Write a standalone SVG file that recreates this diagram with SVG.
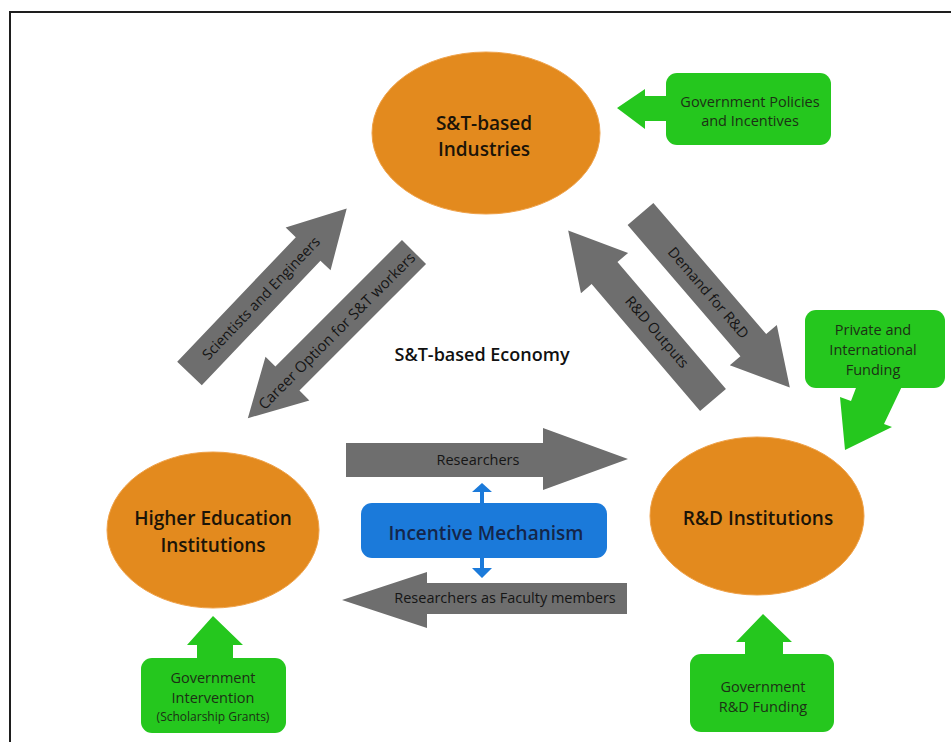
<svg xmlns="http://www.w3.org/2000/svg" width="951" height="742" viewBox="0 0 951 742">
<style>
  text { font-family: "Open Sans", "Noto Sans", "Liberation Sans", sans-serif; text-anchor: middle; }
  .node { fill: #E38A1E; stroke: #EFA24A; stroke-width: 1; }
  .title { font-size: 19px; font-weight: 600; fill: #1b1408; }
  .green { fill: #25C71E; }
  .gtext { font-size: 14.5px; fill: #1c3015; }
  .gray { fill: #6E6E6E; }
  .atext { font-size: 14.5px; fill: #151515; }
  .blue { fill: #1B7ADA; }
</style>
<rect x="0" y="0" width="951" height="742" fill="#FFFFFF"/>
<g id="frame">
  <path d="M10,742 V12 H951" fill="none" stroke="#1e1e1e" stroke-width="2"/>
</g>

<g id="connectors">
  <g id="arrow-scientists" transform="translate(189.5,373.5) rotate(-46.4)">
    <path class="gray" d="M0,-17 H172 V-31 L228,0 L172,31 V17 H0 Z"/>
    <text class="atext" x="104" y="5">Scientists and Engineers</text>
  </g>
  <g id="arrow-career">
    <path class="gray" transform="translate(414,252) rotate(135)" d="M0,-17 H179 V-31 L235,0 L179,31 V17 H0 Z"/>
    <text class="atext" transform="translate(337,331) rotate(-45)" x="0" y="5" style="font-size:15px">Career Option for S&amp;T workers</text>
  </g>
  <g id="arrow-rd-outputs">
    <path class="gray" transform="translate(713,400) rotate(-130.5)" d="M0,-17 H167 V-31 L223,0 L167,31 V17 H0 Z"/>
    <text class="atext" transform="translate(657,332) rotate(49.5)" x="0" y="5">R&amp;D Outputs</text>
  </g>
  <g id="arrow-demand" transform="translate(640.5,214) rotate(49.3)">
    <path class="gray" d="M0,-17 H173 V-31 L229,0 L173,31 V17 H0 Z"/>
    <text class="atext" x="104" y="5">Demand for R&amp;D</text>
  </g>
  <g id="arrow-researchers">
    <path class="gray" d="M346,443 H543 V428 L628,459 L543,490 V477 H346 Z"/>
    <text class="atext" x="478" y="465">Researchers</text>
  </g>
  <g id="arrow-faculty">
    <path class="gray" d="M342,600 L427,572 V583 H627 V614 H427 V628 Z"/>
    <text class="atext" x="505" y="603">Researchers as Faculty members</text>
  </g>
  <g id="arrow-incentive-up">
    <path class="blue" d="M480,504 V492 H472 L482,483 L492,492 H484 V504 Z"/>
  </g>
  <g id="arrow-incentive-down">
    <path class="blue" d="M480,557 V568 H472 L482,578 L492,568 H484 V557 Z"/>
  </g>
</g>

<g id="node-industries">
  <ellipse class="node" cx="486" cy="133" rx="114" ry="81"/>
  <text class="title" x="484" y="130">S&amp;T-based</text>
  <text class="title" x="484" y="156">Industries</text>
</g>

<g id="node-higher-education">
  <ellipse class="node" cx="213" cy="530" rx="106" ry="78"/>
  <text class="title" x="213" y="525">Higher Education</text>
  <text class="title" x="213" y="552">Institutions</text>
</g>

<g id="node-rd-institutions">
  <ellipse class="node" cx="757" cy="516" rx="107" ry="79"/>
  <text class="title" x="758" y="525">R&amp;D Institutions</text>
</g>

<g id="label-economy">
  <text x="482" y="361" style="font-size:18px;font-weight:600;fill:#111111">S&amp;T-based Economy</text>
</g>

<g id="node-incentive">
  <rect class="blue" x="361" y="503" width="246" height="55" rx="11"/>
  <text x="486" y="540" style="font-size:19px;font-weight:600;fill:#14264a">Incentive Mechanism</text>
</g>

<g id="node-gov-policies">
  <path class="green" d="M617,108 L645,89 V96 H676 V121 H645 V129 Z"/>
  <rect class="green" x="666" y="73" width="165" height="72" rx="11"/>
  <text class="gtext" x="750" y="107">Government Policies</text>
  <text class="gtext" x="750" y="126">and Incentives</text>
</g>

<g id="node-private-funding">
  <path class="green" d="M859,380 H905 L884,424 L892,427 L845,450 L840,397 L851,401 Z"/>
  <rect class="green" x="805" y="310" width="140" height="78" rx="11"/>
  <text class="gtext" x="873" y="335">Private and</text>
  <text class="gtext" x="873" y="355">International</text>
  <text class="gtext" x="873" y="375">Funding</text>
</g>

<g id="node-gov-intervention">
  <path class="green" d="M213,616 L243,645 H233 V665 H197 V645 H187 Z"/>
  <rect class="green" x="141" y="658" width="145" height="75" rx="11"/>
  <text class="gtext" x="213" y="683">Government</text>
  <text class="gtext" x="213" y="703">Intervention</text>
  <text x="213" y="721" style="font-size:12px;fill:#1c3015">(Scholarship Grants)</text>
</g>

<g id="node-gov-rd-funding">
  <path class="green" d="M763,614 L792,642 H783 V660 H745 V642 H736 Z"/>
  <rect class="green" x="690" y="654" width="144" height="78" rx="11"/>
  <text class="gtext" x="763" y="692">Government</text>
  <text class="gtext" x="763" y="712">R&amp;D Funding</text>
</g>
</svg>
